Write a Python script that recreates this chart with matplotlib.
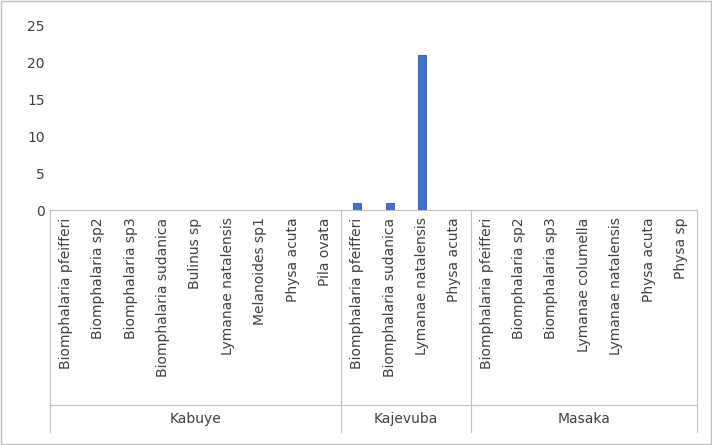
import matplotlib.pyplot as plt
import matplotlib.transforms as mtransforms

sites = ["Kabuye", "Kajevuba", "Masaka"]
kabuye_species = ["Biomphalaria pfeifferi", "Biomphalaria sp2", "Biomphalaria sp3",
                  "Biomphalaria sudanica", "Bulinus sp", "Lymanae natalensis",
                  "Melanoides sp1", "Physa acuta", "Pila ovata"]
kajevuba_species = ["Biomphalaria pfeifferi", "Biomphalaria sudanica",
                    "Lymanae natalensis", "Physa acuta"]
masaka_species = ["Biomphalaria pfeifferi", "Biomphalaria sp2", "Biomphalaria sp3",
                  "Lymanae columella", "Lymanae natalensis", "Physa acuta", "Physa sp"]
kabuye_counts = [0, 0, 0, 0, 0, 0, 0, 0, 0]
kajevuba_counts = [1, 1, 21, 0]
masaka_counts = [0, 0, 0, 0, 0, 0, 0]

groups = [kabuye_species, kajevuba_species, masaka_species]
labels = kabuye_species + kajevuba_species + masaka_species
counts = kabuye_counts + kajevuba_counts + masaka_counts
n = len(labels)

fig = plt.figure(figsize=(7.12, 4.45), dpi=100)
ax = fig.add_axes([0.070, 0.528, 0.909, 0.414])
ax.bar(range(n), counts, width=0.24, color="#4472C4", edgecolor="#2F5597", lw=0.6)
ax.set_xlim(-0.5, n - 0.5)
ax.set_ylim(0, 25)
ax.set_yticks(range(0, 26, 5))
ax.tick_params(axis="y", length=0, labelsize=10, colors="#404040")
ax.set_xticks([])
for s in ["top", "right", "left"]:
    ax.spines[s].set_visible(False)
ax.spines["bottom"].set_color("#BFBFBF")

trans = mtransforms.blended_transform_factory(ax.transData, ax.transAxes)
for i, lab in enumerate(labels):
    ax.text(i, -0.04, lab, rotation=90, ha="center", va="top", fontsize=10,
            color="#404040", transform=trans)

# group separators and group labels
bounds = [-0.5]
for g in groups:
    bounds.append(bounds[-1] + len(g))
y_bottom = -(432 - 210) / (210 - 26)
y_mid = -(405 - 210) / (210 - 26)
for b in bounds:
    ax.plot([b, b], [0, y_bottom], color="#BFBFBF", lw=0.8, transform=trans, clip_on=False)
ax.plot([-0.5, n - 0.5], [y_mid, y_mid], color="#BFBFBF", lw=0.8, transform=trans, clip_on=False)
for site, a, b in zip(sites, bounds[:-1], bounds[1:]):
    ax.text((a + b) / 2, -(419 - 210) / (210 - 26), site, ha="center", va="center",
            fontsize=10, color="#404040", transform=trans)

fig.patches.append(plt.Rectangle((0.001, 0.002), 0.997, 0.996, transform=fig.transFigure,
                                 fill=False, edgecolor="#BFBFBF", lw=1))
fig.savefig("out.png", dpi=100)
